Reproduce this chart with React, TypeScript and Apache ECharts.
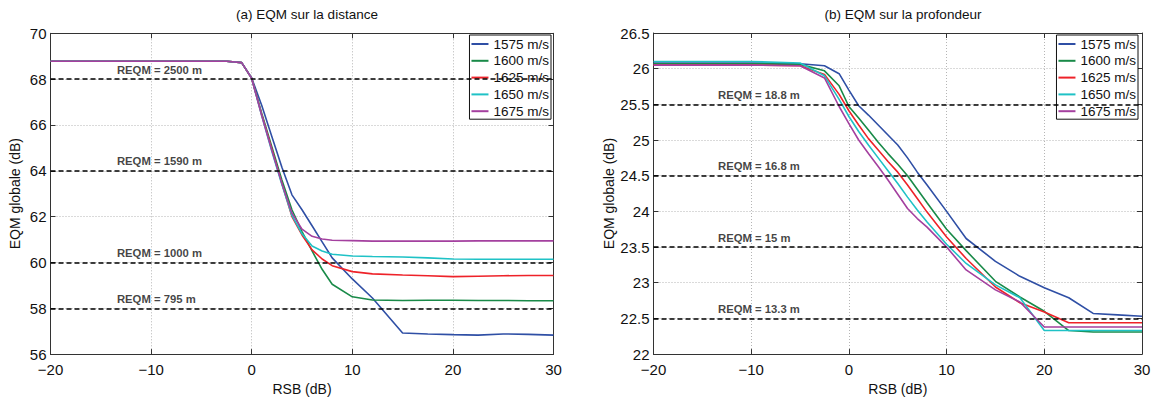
import React, { useEffect, useRef } from 'react';
import * as echarts from 'echarts';

// RSB (dB) sample points
const snr = [-20, -15, -10, -5, -2.5, -1, 0, 1, 2, 3, 4, 5, 6, 7, 8, 10, 12, 15, 17.5, 20, 22.5, 25, 27.5, 30];

const speedNames = ['1575 m/s', '1600 m/s', '1625 m/s', '1650 m/s', '1675 m/s'];
const speedColors = ['#2f4fa5', '#198a48', '#ee2229', '#1fc2c6', '#a4409f'];

// (a) EQM sur la distance (dB)
const distBlue = [68.78, 68.78, 68.78, 68.78, 68.78, 68.72, 68.05, 66.85, 65.5, 64.15, 62.95, 62.3, 61.6, 60.9, 60.2, 59.28, 58.45, 56.92, 56.88, 56.85, 56.83, 56.88, 56.86, 56.83];
const distGreen = [68.78, 68.78, 68.78, 68.78, 68.78, 68.72, 68.03, 66.5, 65.05, 63.6, 62.3, 61.35, 60.5, 59.7, 59.05, 58.5, 58.36, 58.34, 58.35, 58.35, 58.34, 58.34, 58.33, 58.33];
const distRed = [68.78, 68.78, 68.78, 68.78, 68.78, 68.72, 68.03, 66.45, 64.95, 63.45, 62.0, 61.2, 60.55, 60.15, 59.86, 59.6, 59.5, 59.45, 59.42, 59.38, 59.4, 59.42, 59.43, 59.43];
const distCyan = [68.78, 68.78, 68.78, 68.78, 68.78, 68.72, 68.03, 66.4, 64.85, 63.4, 62.05, 61.25, 60.72, 60.5, 60.36, 60.28, 60.26, 60.24, 60.2, 60.15, 60.14, 60.14, 60.14, 60.14];
const distPurple = [68.78, 68.78, 68.78, 68.78, 68.78, 68.72, 68.03, 66.4, 64.9, 63.45, 62.15, 61.45, 61.14, 61.02, 60.97, 60.95, 60.93, 60.93, 60.93, 60.93, 60.94, 60.94, 60.94, 60.94];

// (b) EQM sur la profondeur (dB)
const depthBlue = [26.08, 26.08, 26.08, 26.07, 26.04, 25.93, 25.7, 25.48, 25.35, 25.21, 25.07, 24.93, 24.75, 24.55, 24.37, 24.0, 23.62, 23.3, 23.09, 22.93, 22.79, 22.57, 22.55, 22.53];
const depthGreen = [26.07, 26.07, 26.07, 26.06, 25.97, 25.76, 25.47, 25.31, 25.14, 24.97, 24.81, 24.66, 24.5, 24.31, 24.12, 23.75, 23.45, 23.02, 22.8, 22.6, 22.33, 22.31, 22.31, 22.31];
const depthRed = [26.05, 26.05, 26.05, 26.04, 25.92, 25.64, 25.41, 25.21, 25.02, 24.86, 24.7, 24.55, 24.37, 24.18, 23.99, 23.64, 23.34, 22.94, 22.72, 22.59, 22.44, 22.44, 22.44, 22.44];
const depthCyan = [26.1, 26.1, 26.1, 26.08, 25.9, 25.57, 25.33, 25.12, 24.93, 24.75, 24.57, 24.39, 24.2, 24.02, 23.85, 23.54, 23.27, 22.97, 22.79, 22.33, 22.33, 22.33, 22.33, 22.33];
const depthPurple = [26.05, 26.05, 26.05, 26.04, 25.87, 25.47, 25.23, 25.0, 24.81, 24.63, 24.44, 24.24, 24.04, 23.9, 23.78, 23.5, 23.18, 22.9, 22.73, 22.38, 22.38, 22.38, 22.38, 22.38];

// REQM reference levels
const distRefs = [68, 64, 60, 58];
const distRefLabels = ['REQM = 2500 m', 'REQM = 1590 m', 'REQM = 1000 m', 'REQM = 795 m'];
const depthRefs = [25.5, 24.5, 23.5, 22.5];
const depthRefLabels = ['REQM = 18.8 m', 'REQM = 16.8 m', 'REQM = 15 m', 'REQM = 13.3 m'];
const refLabelX = -13.4;

const FONT = "'Liberation Sans', Arial, Helvetica, sans-serif";
const minus = (v: number) => String(v).replace('-', '\u2212');

export default function App() {
  const ref = useRef<HTMLDivElement>(null);
  useEffect(() => {
    const chart = echarts.init(ref.current!, null, { renderer: 'svg' });
    const distSets = [distBlue, distGreen, distRed, distCyan, distPurple];
    const depthSets = [depthBlue, depthGreen, depthRed, depthCyan, depthPurple];

    const xBase = (gridIndex: number, top: boolean) => ({
      type: 'value',
      gridIndex,
      min: -20,
      max: 30,
      interval: 10,
      position: top ? 'top' : 'bottom',
      name: top ? '' : 'RSB (dB)',
      nameLocation: 'middle',
      nameGap: 23,
      nameTextStyle: { fontFamily: FONT, fontSize: 14, color: '#111' },
      axisLine: { show: true, onZero: false, lineStyle: { color: '#333', width: 1 } },
      axisTick: { show: true, inside: true, length: 5, lineStyle: { color: '#333' } },
      axisLabel: { show: !top, formatter: minus, fontFamily: FONT, fontSize: 15, color: '#111', margin: 8 },
      splitLine: { show: !top, lineStyle: { type: [1, 2], color: '#b5b5b5', width: 1 } },
    });
    const yBase = (gridIndex: number, right: boolean, min: number, max: number, interval: number, gap: number) => ({
      type: 'value',
      gridIndex,
      min,
      max,
      interval,
      position: right ? 'right' : 'left',
      name: right ? '' : 'EQM globale (dB)',
      nameLocation: 'middle',
      nameGap: gap,
      nameTextStyle: { fontFamily: FONT, fontSize: 14, color: '#111' },
      axisLine: { show: true, onZero: false, lineStyle: { color: '#333', width: 1 } },
      axisTick: { show: true, inside: true, length: 5, lineStyle: { color: '#333' } },
      axisLabel: { show: !right, formatter: (v: number) => String(v), fontFamily: FONT, fontSize: 15, color: '#111', margin: 4 },
      splitLine: { show: !right, lineStyle: { type: [1, 2], color: '#b5b5b5', width: 1 } },
    });

    const lineSeries = (sets: number[][], idx: number) =>
      sets.map((vals, i) => ({
        type: 'line',
        name: speedNames[i],
        xAxisIndex: idx,
        yAxisIndex: idx,
        symbol: 'none',
        data: snr.map((x, k) => [x, vals[k]]),
        lineStyle: { color: speedColors[i], width: 1.6 },
        itemStyle: { color: speedColors[i] },
        z: 3,
      }));

    const refSeries = (refs: number[], labels: string[], idx: number) => ({
      type: 'scatter',
      name: 'ref' + idx,
      xAxisIndex: idx,
      yAxisIndex: idx,
      symbolSize: 0,
      silent: true,
      z: 2,
      data: refs.map((v, i) => ({ value: [refLabelX, v], name: labels[i] })),
      label: {
        show: true,
        formatter: (p: any) => p.name,
        position: [0, -15],
        align: 'left',
        verticalAlign: 'top',
        fontFamily: FONT,
        fontSize: 11.3,
        fontWeight: 'bold',
        color: '#111',
      },
      markLine: {
        silent: true,
        symbol: 'none',
        label: { show: false },
        lineStyle: { type: [5, 3], color: '#000', width: 1.5 },
        data: refs.map((v) => ({ yAxis: v })),
      },
    });

    const legendBase = (right: number) => ({
      data: speedNames,
      orient: 'vertical',
      right,
      top: 35,
      itemWidth: 17,
      itemHeight: 2,
      itemGap: 2.8,
      itemTextGap: 3,
      icon: 'rect',
      padding: [2, 2, 1, 2],
      borderColor: '#111',
      borderWidth: 1,
      backgroundColor: '#fff',
      textStyle: { fontFamily: FONT, fontSize: 13.5, lineHeight: 14, color: '#111' },
    });

    chart.setOption({
      animation: false,
      backgroundColor: '#fff',
      title: [
        { text: '(a) EQM sur la distance', left: 302, top: 2, textAlign: 'center', textStyle: { fontFamily: FONT, fontSize: 13.5, fontWeight: 'normal', color: '#111' } },
        { text: '(b) EQM sur la profondeur', left: 898, top: 2, textAlign: 'center', textStyle: { fontFamily: FONT, fontSize: 13.5, fontWeight: 'normal', color: '#111' } },
      ],
      grid: [
        { left: 50.5, right: 604.5, top: 33.3, bottom: 41 },
        { left: 653.5, right: 16, top: 33, bottom: 42 },
      ],
      xAxis: [xBase(0, false), xBase(1, false), xBase(0, true), xBase(1, true)],
      yAxis: [
        yBase(0, false, 56, 70, 2, 29),
        yBase(1, false, 22, 26.5, 0.5, 37),
        yBase(0, true, 56, 70, 2, 0),
        yBase(1, true, 22, 26.5, 0.5, 0),
      ],
      legend: [legendBase(607), legendBase(20)],
      series: [
        refSeries(distRefs, distRefLabels, 0),
        refSeries(depthRefs, depthRefLabels, 1),
        ...lineSeries(distSets, 0),
        ...lineSeries(depthSets, 1),
      ],
    });
    return () => chart.dispose();
  }, []);
  return <div ref={ref} style={{ position: 'fixed', left: 0, top: 0, width: 1158, height: 401, background: '#fff' }} />;
}
